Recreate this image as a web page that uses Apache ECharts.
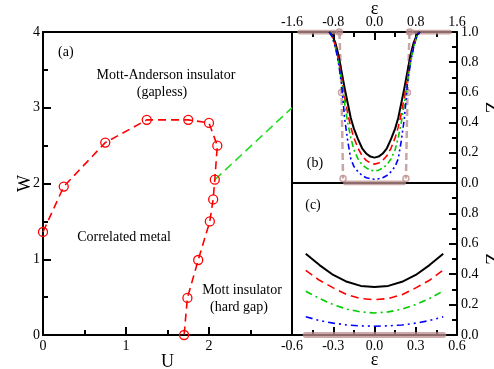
<!DOCTYPE html>
<html>
<head>
<meta charset="utf-8">
<script src="https://cdn.jsdelivr.net/npm/echarts@6/dist/echarts.min.js"></script>
<style>
  html, body { margin: 0; padding: 0; background: #fff; }
  #main { width: 494px; height: 369px; }
</style>
</head>
<body>
<div id="main"></div>
<script>
// panel (a): phase diagram
const phaseU = [0, 0.25, 0.75, 1.25, 1.75, 2.0, 2.1, 2.07, 2.05, 2.01, 1.87, 1.74, 1.7];
const phaseW = [1.36, 1.96, 2.54, 2.84, 2.84, 2.80, 2.50, 2.05, 1.79, 1.50, 0.99, 0.49, 0];
const linkU = [2.07, 3.0];
const linkW = [2.05, 3.0];

// panel (b): Z(eps), wide range
const epsB = [-0.88, -0.82, -0.76, -0.7, -0.64, -0.58, -0.52, -0.46, -0.4, -0.32, -0.24, -0.16, -0.08, 0,
              0.08, 0.16, 0.24, 0.32, 0.4, 0.46, 0.52, 0.58, 0.64, 0.7, 0.76, 0.82, 0.88];
const zBlackB = [1, 0.98, 0.93, 0.85, 0.74, 0.63, 0.53, 0.43, 0.36, 0.29, 0.23, 0.195, 0.175, 0.168,
                 0.175, 0.195, 0.23, 0.29, 0.36, 0.43, 0.53, 0.63, 0.74, 0.85, 0.93, 0.98, 1];
const zRedB = [1, 0.97, 0.91, 0.82, 0.7, 0.57, 0.46, 0.37, 0.3, 0.23, 0.18, 0.15, 0.132, 0.125,
               0.132, 0.15, 0.18, 0.23, 0.3, 0.37, 0.46, 0.57, 0.7, 0.82, 0.91, 0.97, 1];
const zGreenB = [1, 0.97, 0.9, 0.8, 0.68, 0.53, 0.4, 0.3, 0.22, 0.16, 0.12, 0.1, 0.085, 0.08,
                 0.085, 0.1, 0.12, 0.16, 0.22, 0.3, 0.4, 0.53, 0.68, 0.8, 0.9, 0.97, 1];
const zBlueB = [1, 0.97, 0.9, 0.8, 0.66, 0.43, 0.28, 0.16, 0.11, 0.075, 0.05, 0.035, 0.028, 0.025,
                0.028, 0.035, 0.05, 0.075, 0.11, 0.16, 0.28, 0.43, 0.66, 0.8, 0.9, 0.97, 1];
// step (U large limit) drawn in rosy brown
const stepLeftEps = [-0.68, -0.64, -0.61];
const stepRightEps = [0.68, 0.64, 0.61];
const stepZ = [1.0, 0.6, 0.03];
const bandB = [[-1.45, -0.68, 1], [0.66, 1.45, 1], [-0.56, 0.56, 0]];

// panel (c): Z(eps), narrow range
const epsC = [-0.5, -0.4, -0.3, -0.2, -0.1, 0, 0.1, 0.2, 0.3, 0.4, 0.5];
const zBlackC = [0.535, 0.46, 0.395, 0.35, 0.323, 0.315, 0.323, 0.35, 0.395, 0.46, 0.535];
const zRedC = [0.425, 0.36, 0.31, 0.265, 0.24, 0.232, 0.24, 0.265, 0.31, 0.36, 0.428];
const zGreenC = [0.288, 0.24, 0.2, 0.17, 0.152, 0.145, 0.152, 0.17, 0.2, 0.24, 0.29];
const zBlueC = [0.12, 0.095, 0.078, 0.066, 0.06, 0.058, 0.06, 0.066, 0.078, 0.095, 0.12];
const bandC = [[-0.5, 0.5, 0]];

const FONT = 'Liberation Serif';
const zip = (xs, ys) => xs.map((x, i) => [x, ys[i]]);
const fmt1 = v => (Math.abs(v) < 1e-9 ? '0.0' : v.toFixed(1));

// labelled axis: line + labels + name, no ticks
function axis(o) {
    return Object.assign({
        type: 'value',
        axisLine: { show: true, onZero: false, lineStyle: { color: '#000', width: 2 } },
        splitLine: { show: false },
        axisTick: { show: false },
        minorTick: { show: false },
        axisLabel: { color: '#000', fontFamily: FONT, fontSize: 14, margin: 4 },
        nameTextStyle: { color: '#000', fontFamily: FONT, fontSize: 18 },
        nameLocation: 'middle',
        nameMoveOverlap: false
    }, o);
}

// plain frame side: line only
function frame(o) {
    return Object.assign({
        type: 'value',
        axisLine: { show: true, onZero: false, lineStyle: { color: '#000', width: 2 } },
        axisTick: { show: false }, minorTick: { show: false },
        axisLabel: { show: false }, splitLine: { show: false }
    }, o);
}

// tick-only axis placed on the opposite side and shifted back over the labelled edge,
// so its outward ticks point into the plot
function ticks(o) {
    return Object.assign({
        type: 'value',
        axisLine: { show: false, onZero: false },
        axisTick: { show: true, inside: false, length: 8, lineStyle: { color: '#000', width: 2 } },
        minorTick: { show: true, splitNumber: 2, length: 5, lineStyle: { color: '#000', width: 2 } },
        axisLabel: { show: false }, splitLine: { show: false }
    }, o);
}

function curve(name, xi, yi, data, color, type, width) {
    return {
        name: name, type: 'line', xAxisIndex: xi, yAxisIndex: yi,
        data: data, showSymbol: false, symbol: 'none', smooth: false,
        lineStyle: { color: color, width: width || 1.6, type: type },
        z: 3
    };
}

function bands(list, xi, yi, w) {
    return list.map(b => ({
        type: 'line', xAxisIndex: xi, yAxisIndex: yi, symbol: 'none',
        data: [[b[0], b[2]], [b[1], b[2]]],
        lineStyle: { color: '#bc8f8f', width: w, opacity: 0.75, cap: 'round' },
        z: 2
    }));
}

const chart = echarts.init(document.getElementById('main'));

const option = {
    animation: false,
    backgroundColor: '#fff',
    grid: [
        { left: 43, top: 32, width: 249, height: 303, outerBoundsMode: 'none' },
        { left: 292, top: 32, width: 165, height: 151, outerBoundsMode: 'none' },
        { left: 292, top: 183, width: 165, height: 152, outerBoundsMode: 'none' }
    ],
    xAxis: [
        axis({ gridIndex: 0, min: 0, max: 3, interval: 1, name: 'U', nameGap: 18,
               axisLabel: { color: '#000', fontFamily: FONT, fontSize: 14, margin: 4, showMaxLabel: false } }),
        axis({ gridIndex: 1, position: 'top', min: -1.6, max: 1.6, interval: 0.8, name: 'ε', nameGap: 14,
               axisLabel: { color: '#000', fontFamily: FONT, fontSize: 14, margin: 3, formatter: fmt1 } }),
        axis({ gridIndex: 2, min: -0.6, max: 0.6, interval: 0.3, name: 'ε', nameGap: 16,
               axisLabel: { color: '#000', fontFamily: FONT, fontSize: 14, margin: 4, formatter: fmt1 } }),
        frame({ gridIndex: 0, position: 'top', min: 0, max: 3 }),
        frame({ gridIndex: 1, position: 'bottom', min: -1.6, max: 1.6 }),
        frame({ gridIndex: 2, position: 'top', min: -0.6, max: 0.6 }),
        ticks({ gridIndex: 0, position: 'top', offset: -303, min: 0, max: 3, interval: 1 }),
        ticks({ gridIndex: 1, position: 'bottom', offset: -151, min: -1.6, max: 1.6, interval: 0.8 }),
        ticks({ gridIndex: 2, position: 'top', offset: -152, min: -0.6, max: 0.6, interval: 0.3 })
    ],
    yAxis: [
        axis({ gridIndex: 0, min: 0, max: 4, interval: 1, name: 'W', nameGap: 9, nameRotate: 90,
               axisLabel: { color: '#000', fontFamily: FONT, fontSize: 14, margin: 3 } }),
        axis({ gridIndex: 1, position: 'right', min: 0, max: 1, interval: 0.2, name: 'Z', nameGap: 25, nameRotate: -90,
               axisLabel: { color: '#000', fontFamily: FONT, fontSize: 14, margin: 4, formatter: fmt1 } }),
        axis({ gridIndex: 2, position: 'right', min: 0, max: 1, interval: 0.2, name: 'Z', nameGap: 25, nameRotate: -90,
               axisLabel: { color: '#000', fontFamily: FONT, fontSize: 14, margin: 4, formatter: fmt1, showMaxLabel: false } }),
        frame({ gridIndex: 0, position: 'right', min: 0, max: 4 }),
        frame({ gridIndex: 1, position: 'left', min: 0, max: 1 }),
        frame({ gridIndex: 2, position: 'left', min: 0, max: 1 }),
        ticks({ gridIndex: 0, position: 'right', offset: -249, min: 0, max: 4, interval: 1 }),
        ticks({ gridIndex: 1, position: 'left', offset: -165, min: 0, max: 1, interval: 0.2 }),
        ticks({ gridIndex: 2, position: 'left', offset: -165, min: 0, max: 1, interval: 0.2 })
    ],
    series: [
        {
            type: 'line', xAxisIndex: 0, yAxisIndex: 0,
            data: zip(linkU, linkW), symbol: 'none',
            lineStyle: { color: '#22dd22', width: 1.6, type: [9, 5] }, z: 2
        },
        {
            type: 'line', xAxisIndex: 0, yAxisIndex: 0,
            data: zip(phaseU, phaseW),
            symbol: 'circle', symbolSize: 9, showSymbol: true,
            itemStyle: { color: 'rgba(0,0,0,0)', borderColor: '#ff0000', borderWidth: 1.3 },
            lineStyle: { color: '#ff0000', width: 1.6, type: [8, 5] }, z: 3
        },

        ...bands(bandB, 1, 1, 5),
        {
            type: 'line', xAxisIndex: 1, yAxisIndex: 1, data: zip(stepLeftEps, stepZ),
            symbol: 'circle', symbolSize: 6, showSymbol: true,
            itemStyle: { color: 'rgba(0,0,0,0)', borderColor: '#bc8f8f', borderWidth: 1.5, opacity: 0.8 },
            lineStyle: { color: '#bc8f8f', width: 2.5, type: [7, 4], opacity: 0.8 }, z: 2
        },
        {
            type: 'line', xAxisIndex: 1, yAxisIndex: 1, data: zip(stepRightEps, stepZ),
            symbol: 'circle', symbolSize: 6, showSymbol: true,
            itemStyle: { color: 'rgba(0,0,0,0)', borderColor: '#bc8f8f', borderWidth: 1.5, opacity: 0.8 },
            lineStyle: { color: '#bc8f8f', width: 2.5, type: [7, 4], opacity: 0.8 }, z: 2
        },
        curve('black', 1, 1, zip(epsB, zBlackB), '#000000', 'solid', 2),
        curve('red', 1, 1, zip(epsB, zRedB), '#ff0000', [7, 4]),
        curve('green', 1, 1, zip(epsB, zGreenB), '#00cc00', [6, 3, 2, 3]),
        curve('blue', 1, 1, zip(epsB, zBlueB), '#0000ff', [6, 3, 2, 3, 2, 3]),

        ...bands(bandC, 2, 2, 6),
        curve('black', 2, 2, zip(epsC, zBlackC), '#000000', 'solid', 2),
        curve('red', 2, 2, zip(epsC, zRedC), '#ff0000', [8, 5]),
        curve('green', 2, 2, zip(epsC, zGreenC), '#00cc00', [7, 4, 2, 4]),
        curve('blue', 2, 2, zip(epsC, zBlueC), '#0000ff', [7, 4, 2, 4, 2, 4])
    ],
    graphic: [
        { type: 'text', left: 58, top: 45, style: { text: '(a)', font: '14px "Liberation Serif"', fill: '#000' } },
        { type: 'text', x: 166, y: 75, style: { text: 'Mott-Anderson insulator', font: '14px "Liberation Serif"', fill: '#000', align: 'center', verticalAlign: 'middle' } },
        { type: 'text', x: 162, y: 92, style: { text: '(gapless)', font: '14px "Liberation Serif"', fill: '#000', align: 'center', verticalAlign: 'middle' } },
        { type: 'text', x: 124, y: 237, style: { text: 'Correlated metal', font: '14px "Liberation Serif"', fill: '#000', align: 'center', verticalAlign: 'middle' } },
        { type: 'text', x: 242, y: 290, style: { text: 'Mott insulator', font: '14px "Liberation Serif"', fill: '#000', align: 'center', verticalAlign: 'middle' } },
        { type: 'text', x: 239, y: 307, style: { text: '(hard gap)', font: '14px "Liberation Serif"', fill: '#000', align: 'center', verticalAlign: 'middle' } },
        { type: 'text', x: 315, y: 163, style: { text: '(b)', font: '14px "Liberation Serif"', fill: '#000', align: 'center', verticalAlign: 'middle' } },
        { type: 'text', x: 313, y: 205, style: { text: '(c)', font: '14px "Liberation Serif"', fill: '#000', align: 'center', verticalAlign: 'middle' } }
    ]
};

chart.setOption(option);
</script>
</body>
</html>
